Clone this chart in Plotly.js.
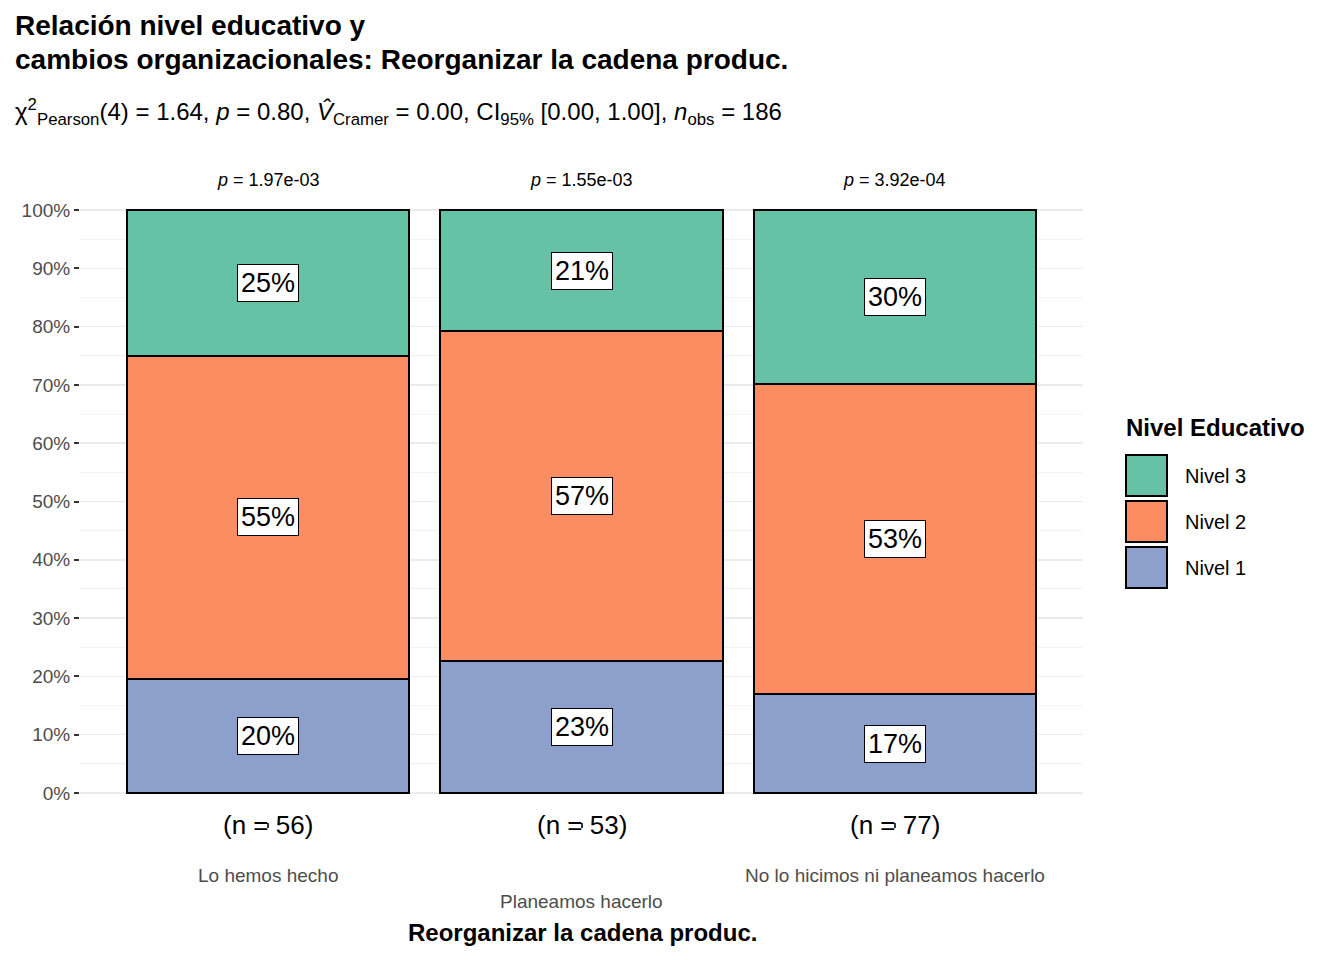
<!DOCTYPE html>
<html>
<head>
<meta charset="utf-8">
<script src="https://cdn.plot.ly/plotly-3.0.1.min.js"></script>
<style>body{margin:0;background:#fff}#chart{width:1344px;height:960px}</style>
</head>
<body>
<div id="chart"></div>
<script>
// ── Data ──
const categories = ['Lo hemos hecho', 'Planeamos hacerlo', 'No lo hicimos ni planeamos hacerlo'];
const counts = [56, 53, 77];
const pValues = ['1.97e-03', '1.55e-03', '3.92e-04'];
const nivel1 = [0.196, 0.226, 0.169];
const nivel2 = [0.554, 0.566, 0.532];
const nivel3 = [0.250, 0.208, 0.299];
const pctLabels = {
    n1: ['20%', '23%', '17%'],
    n2: ['55%', '57%', '53%'],
    n3: ['25%', '21%', '30%']
};

const colors = { n1: '#8da0cb', n2: '#fc8d62', n3: '#66c2a5' };
const FONT = 'Liberation Sans, Arial, sans-serif';
const xs = categories.map((c, i) => i);

const series = [
    { key: 'n1', name: 'Nivel 1', y: nivel1 },
    { key: 'n2', name: 'Nivel 2', y: nivel2 },
    { key: 'n3', name: 'Nivel 3', y: nivel3 }
];

const traces = series.map(s => ({
    type: 'bar', x: xs, y: s.y, name: s.name, width: 0.9,
    marker: { color: colors[s.key], line: { color: '#000', width: 2 } },
    showlegend: false, hoverinfo: 'skip'
}));

// plot area in page pixels; paper coords are relative to it
const W = 1344, H = 960;
const L = 80, R = 1083, T = 181, B = 822;
const px = v => (v - L) / (R - L), py = v => (B - v) / (B - T);

const annotations = [];
xs.forEach(i => {
    let base = 0;
    series.forEach(s => {
        annotations.push({
            x: i, y: base + s.y[i] / 2, xref: 'x', yref: 'y',
            text: pctLabels[s.key][i], showarrow: false,
            font: { family: FONT, size: 27, color: '#000' },
            bgcolor: '#fff', bordercolor: '#000', borderwidth: 1, borderpad: 3
        });
        base += s.y[i];
    });
    annotations.push({ x: i, y: py(180), xref: 'x', yref: 'paper', yanchor: 'middle', showarrow: false,
        text: '<i>p</i> = ' + pValues[i], font: { family: FONT, size: 18, color: '#000' } });
    annotations.push({ x: i, y: py(825), xref: 'x', yref: 'paper', yanchor: 'middle', showarrow: false,
        text: '(n = ' + counts[i] + ')', font: { family: FONT, size: 26, color: '#000' } });
    annotations.push({ x: i, y: py(i === 1 ? 902 : 876), xref: 'x', yref: 'paper', yanchor: 'middle', showarrow: false,
        text: categories[i], font: { family: FONT, size: 19, color: '#4d4d4d' } });
});

annotations.push(
    { x: px(13), y: py(25), xref: 'paper', yref: 'paper', xanchor: 'left', yanchor: 'middle', showarrow: false,
      text: '<b>Relación nivel educativo y</b>', font: { family: FONT, size: 28, color: '#000' } },
    { x: px(13), y: py(60), xref: 'paper', yref: 'paper', xanchor: 'left', yanchor: 'middle', showarrow: false,
      text: '<b>cambios organizacionales: Reorganizar la cadena produc.</b>', font: { family: FONT, size: 28, color: '#000' } },
    { x: px(13), y: py(112), xref: 'paper', yref: 'paper', xanchor: 'left', yanchor: 'middle', showarrow: false,
      text: 'χ<sup>2</sup><sub>Pearson</sub>(4) = 1.64, <i>p</i> = 0.80, <i>V̂</i><sub>Cramer</sub> = 0.00, CI<sub>95%</sub> [0.00, 1.00], <i>n</i><sub>obs</sub> = 186',
      font: { family: FONT, size: 24, color: '#000' } },
    { x: px(582), y: py(932), xref: 'paper', yref: 'paper', yanchor: 'middle', showarrow: false,
      text: '<b>Reorganizar la cadena produc.</b>', font: { family: FONT, size: 24, color: '#000' } },
    { x: px(1124), y: py(427), xref: 'paper', yref: 'paper', xanchor: 'left', yanchor: 'middle', showarrow: false,
      text: '<b>Nivel Educativo</b>', font: { family: FONT, size: 24, color: '#000' } }
);

// legend keys drawn as shapes
const shapes = [];
[['n3', 'Nivel 3', 455], ['n2', 'Nivel 2', 501], ['n1', 'Nivel 1', 547]].forEach(([k, label, top]) => {
    shapes.push({ type: 'rect', xref: 'paper', yref: 'paper', x0: px(1126), x1: px(1167), y0: py(top), y1: py(top + 41),
        fillcolor: colors[k], line: { color: '#000', width: 2 } });
    annotations.push({ x: px(1183), y: py(top + 21), xref: 'paper', yref: 'paper', xanchor: 'left', yanchor: 'middle',
        showarrow: false, text: label, font: { family: FONT, size: 20, color: '#000' } });
});

const layout = {
    width: W, height: H,
    margin: { l: L, r: W - R, t: T, b: H - B },
    barmode: 'stack', bargap: 0.1,
    paper_bgcolor: '#fff', plot_bgcolor: '#fff',
    font: { family: FONT },
    xaxis: {
        range: [-0.6, 2.6], tickvals: xs, showticklabels: false,
        ticks: 'outside', ticklen: 5, tickcolor: '#333', tickwidth: 2,
        showgrid: false, zeroline: false, showline: false, fixedrange: true
    },
    yaxis: {
        range: [-0.05, 1.05], dtick: 0.1, tickformat: '.0%',
        ticks: 'outside', ticklen: 5, tickcolor: '#333', tickwidth: 2,
        tickfont: { family: FONT, size: 19, color: '#4d4d4d' },
        gridcolor: '#ebebeb', gridwidth: 1.5,
        minor: { dtick: 0.05, showgrid: true, gridcolor: '#f2f2f2', gridwidth: 1 },
        zeroline: false, showline: false, fixedrange: true
    },
    annotations: annotations,
    shapes: shapes,
    showlegend: false
};

Plotly.newPlot('chart', traces, layout, { displayModeBar: false, staticPlot: true });
</script>
</body>
</html>
